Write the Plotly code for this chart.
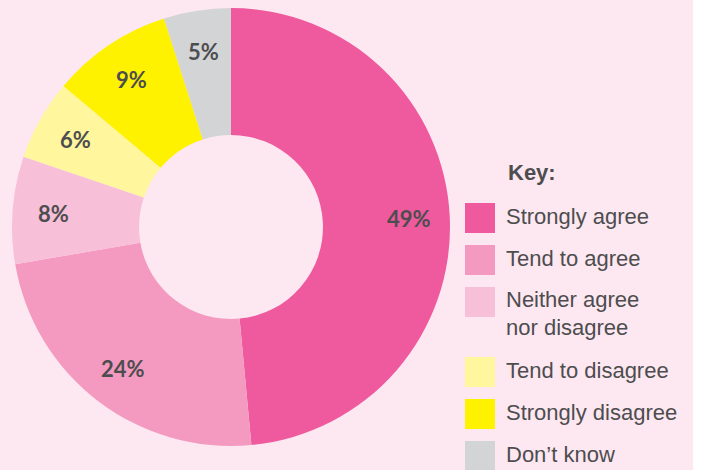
import math
import plotly.graph_objects as go

# survey answers, clockwise from 12 o'clock
categories = ["Strongly agree", "Tend to agree", "Neither agree<br>nor disagree",
              "Tend to disagree", "Strongly disagree", "Don’t know"]
values = [49, 24, 8, 6, 9, 5]
colors = ["#ef5a9e", "#f49ac1", "#f8bfd8", "#fff69e", "#fff200", "#d3d4d6"]
key_title = "Key:"

W, H = 702, 470
bg = "#fde8f1"
text_color = "#4d4d4f"

# donut geometry in pixels
cx, cy, r_out = 231, 227, 219
r_label = 178

# key rows: fixed step, plus extra room for wrapped labels
row_y = []
text_y = []
y = 218
for c in categories:
    n_extra = c.count("<br>")
    row_y.append(y)
    text_y.append(y + 13.5 * n_extra)
    y += 42 + 28 * n_extra

fig = go.Figure()

fig.add_trace(go.Pie(
    labels=categories, values=values, sort=False, direction="clockwise",
    rotation=0, hole=0.42,
    marker=dict(colors=colors, line=dict(width=0)),
    textinfo="none",
    domain=dict(x=[(cx - r_out) / W, (cx + r_out) / W],
                y=[(H - cy - r_out) / H, (H - cy + r_out) / H]),
    showlegend=False, hoverinfo="label+percent",
))

# key squares and labels
fig.add_trace(go.Scatter(
    x=[480] * len(categories), y=row_y, mode="markers",
    marker=dict(symbol="square", size=30, color=colors, line=dict(width=0)),
    showlegend=False, hoverinfo="skip",
))
fig.add_trace(go.Scatter(
    x=[506] * len(categories), y=text_y, mode="text", text=categories,
    textposition="middle right",
    textfont=dict(family="Liberation Sans", size=22, color=text_color),
    showlegend=False, hoverinfo="skip",
))

# percentage labels, placed out along each slice's middle angle
annotations = []
total = sum(values)
cum = 0
for v in values:
    theta = math.radians((cum + v / 2) / total * 360)
    cum += v
    annotations.append(dict(
        x=cx + r_label * math.sin(theta), y=cy - r_label * math.cos(theta),
        xref="x", yref="y", text=f"{v}%", showarrow=False,
        font=dict(family="Lato", size=22, color=text_color, weight="bold")))

annotations.append(dict(x=506, y=172, xref="x", yref="y", text="<b>" + key_title + "</b>",
                        showarrow=False, xanchor="left", yanchor="middle",
                        font=dict(family="Liberation Sans", size=22, color=text_color)))

axis = dict(showline=False, zeroline=False, showgrid=False, ticks="",
            showticklabels=False, fixedrange=True)

fig.update_layout(
    width=W, height=H, margin=dict(l=0, r=0, t=0, b=0),
    paper_bgcolor=bg, plot_bgcolor="rgba(0,0,0,0)",
    xaxis=dict(axis, range=[0, W], domain=[0, 1]),
    yaxis=dict(axis, range=[H, 0], domain=[0, 1]),
    shapes=[dict(type="rect", xref="paper", yref="paper", x0=693 / W, x1=1,
                 y0=0, y1=1, fillcolor="white", line=dict(width=0), layer="above")],
    annotations=annotations,
)

fig.write_html("out.html", config={"displayModeBar": False},
               post_script="document.body.style.margin='0';")
